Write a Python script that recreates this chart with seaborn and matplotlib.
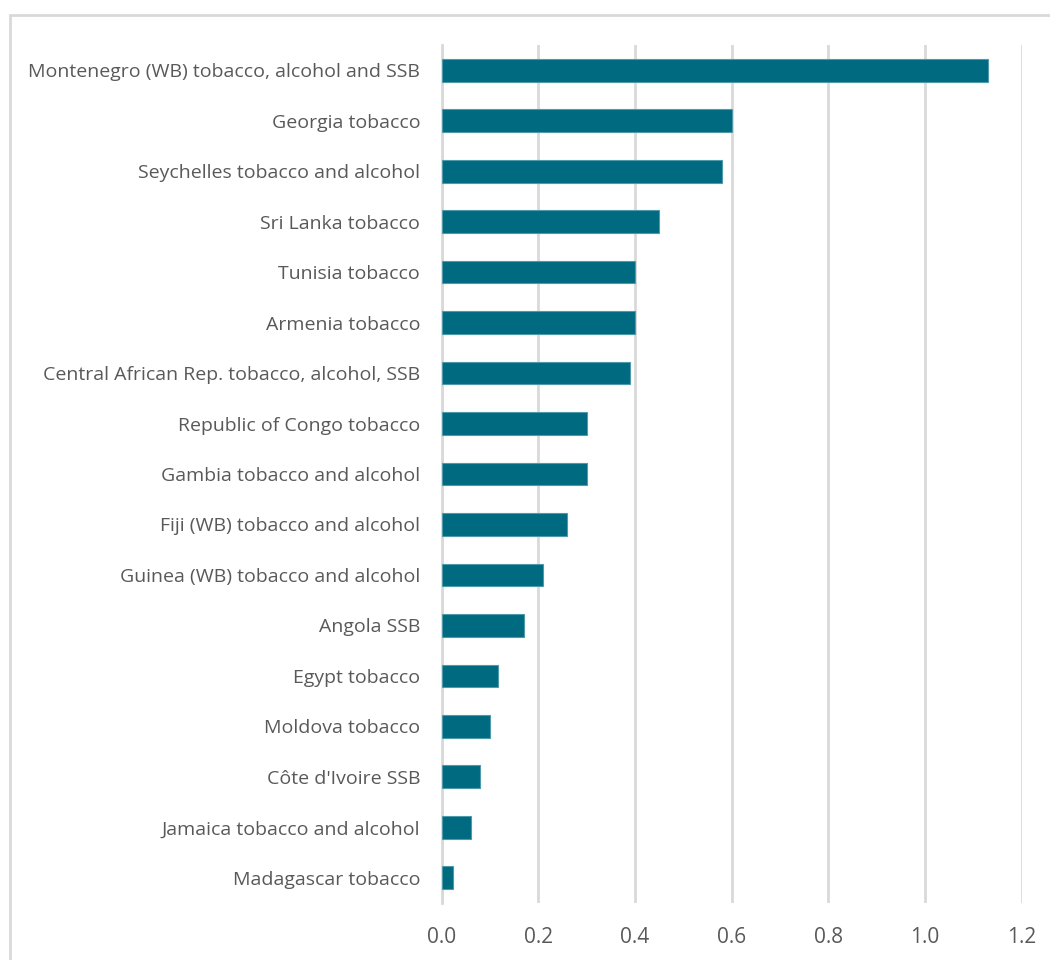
import matplotlib
matplotlib.use("Agg")
import matplotlib.pyplot as plt
from matplotlib.patches import Rectangle
import seaborn as sns
import pandas as pd

categories = [
    "Montenegro (WB) tobacco, alcohol and SSB",
    "Georgia tobacco",
    "Seychelles tobacco and alcohol",
    "Sri Lanka tobacco",
    "Tunisia tobacco",
    "Armenia tobacco",
    "Central African Rep. tobacco, alcohol, SSB",
    "Republic of Congo tobacco",
    "Gambia tobacco and alcohol",
    "Fiji (WB) tobacco and alcohol",
    "Guinea (WB) tobacco and alcohol",
    "Angola SSB",
    "Egypt tobacco",
    "Moldova tobacco",
    "Côte d'Ivoire SSB",
    "Jamaica tobacco and alcohol",
    "Madagascar tobacco",
]
values = [1.13, 0.60, 0.58, 0.45, 0.40, 0.40, 0.39, 0.30, 0.30, 0.26,
          0.21, 0.17, 0.117, 0.10, 0.08, 0.06, 0.024]
x_ticks = [0.0, 0.2, 0.4, 0.6, 0.8, 1.0, 1.2]

df = pd.DataFrame({"label": categories, "value": values})

sns.set_style("white")
plt.rcParams["font.family"] = ["Open Sans", "DejaVu Sans"]

bar_color = "#006A80"
text_color = "#595959"
grid_color = "#D9D9D9"

fig = plt.figure(figsize=(10.5, 9.6), dpi=100)
ax = fig.add_axes([441.7 / 1050, 57 / 960, 580 / 1050, 858 / 960])

sns.barplot(data=df, x="value", y="label", orient="h", color=bar_color,
            width=0.45, saturation=1, edgecolor="#4E9AAB", linewidth=0.8,
            ax=ax, zorder=3)

ax.set_xlim(0, 1.2)
ax.set_ylim(len(categories) - 0.5, -0.5)
ax.set_xticks(x_ticks)
ax.set_xticklabels([f"{t:.1f}" for t in x_ticks])
ax.xaxis.grid(True, color=grid_color, linewidth=2, zorder=0)
ax.yaxis.grid(False)
ax.set_axisbelow(True)
for s in ["top", "right", "bottom"]:
    ax.spines[s].set_visible(False)
ax.spines["left"].set_visible(True)
ax.spines["left"].set_color(grid_color)
ax.spines["left"].set_linewidth(2)
ax.spines["left"].set_zorder(0)
ax.set_xlabel("")
ax.set_ylabel("")
ax.tick_params(axis="y", length=0, pad=15.5, labelsize=14, labelcolor=text_color)
ax.tick_params(axis="x", length=0, pad=17, labelsize=15, labelcolor=text_color)

# light frame around the chart area
fig.patches.append(Rectangle((10 / 1050, -0.05), 1.2, 1 - 15 / 960 + 0.05,
                             transform=fig.transFigure, fill=False,
                             edgecolor=grid_color, linewidth=2, zorder=0))

fig.savefig("out.png", dpi=100)
